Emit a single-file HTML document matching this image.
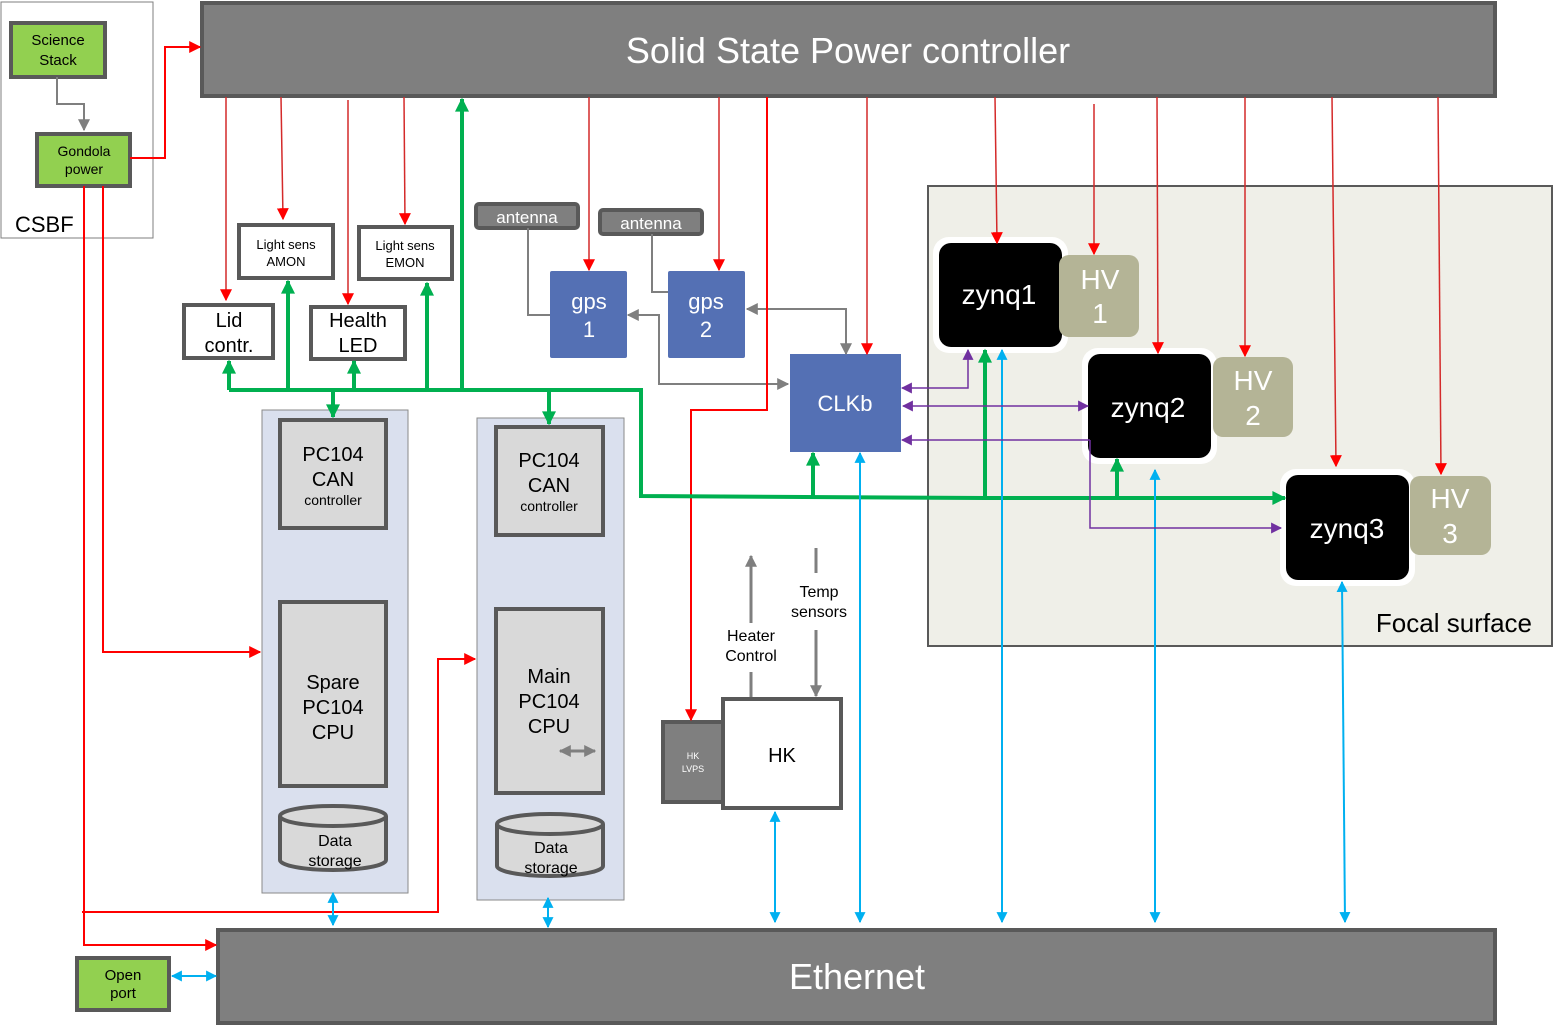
<!DOCTYPE html>
<html><head><meta charset="utf-8"><style>
html,body{margin:0;padding:0;background:#fff;}
svg{display:block;font-family:"Liberation Sans",Arial,sans-serif;}
</style></head><body>
<svg width="1554" height="1026" viewBox="0 0 1554 1026" xmlns="http://www.w3.org/2000/svg">
<defs>
<marker id="ar" viewBox="0 0 10 10" refX="9" refY="5" markerWidth="5" markerHeight="5" orient="auto-start-reverse" markerUnits="userSpaceOnUse"><path d="M0,0L10,5L0,10z" fill="#e02020"/></marker>
<marker id="arR" viewBox="0 0 10 10" refX="9" refY="5" markerWidth="12" markerHeight="12" orient="auto-start-reverse" markerUnits="userSpaceOnUse"><path d="M0,0L10,5L0,10z" fill="#ff0000"/></marker>
<marker id="ag" viewBox="0 0 10 10" refX="9" refY="5" markerWidth="16" markerHeight="14" orient="auto-start-reverse" markerUnits="userSpaceOnUse"><path d="M0,0L10,5L0,10z" fill="#00b050"/></marker>
<marker id="ab" viewBox="0 0 10 10" refX="9" refY="5" markerWidth="11" markerHeight="11" orient="auto-start-reverse" markerUnits="userSpaceOnUse"><path d="M0,0L10,5L0,10z" fill="#00b0f0"/></marker>
<marker id="ap" viewBox="0 0 10 10" refX="9" refY="5" markerWidth="11" markerHeight="11" orient="auto-start-reverse" markerUnits="userSpaceOnUse"><path d="M0,0L10,5L0,10z" fill="#7030a0"/></marker>
<marker id="ay" viewBox="0 0 10 10" refX="9" refY="5" markerWidth="12" markerHeight="12" orient="auto-start-reverse" markerUnits="userSpaceOnUse"><path d="M0,0L10,5L0,10z" fill="#7f7f7f"/></marker>
</defs>

<!-- CSBF -->
<rect x="1" y="2" width="152" height="236" fill="#fff" stroke="#7f7f7f" stroke-width="1"/>
<text x="15" y="232" font-size="22">CSBF</text>
<rect x="11" y="23" width="94" height="54" fill="#92d050" stroke="#595959" stroke-width="4"/>
<text x="58" y="45" font-size="15" text-anchor="middle">Science</text>
<text x="58" y="65" font-size="15" text-anchor="middle">Stack</text>
<rect x="37" y="134" width="93" height="52" fill="#92d050" stroke="#595959" stroke-width="4"/>
<text x="84" y="156" font-size="14" text-anchor="middle">Gondola</text>
<text x="84" y="174" font-size="14" text-anchor="middle">power</text>
<path d="M57,77V104H84V130" fill="none" stroke="#7f7f7f" stroke-width="2" marker-end="url(#ay)"/>

<!-- Focal surface -->
<rect x="928" y="186" width="624" height="460" fill="#efefe8" stroke="#595959" stroke-width="2"/>
<text x="1532" y="632" font-size="26" text-anchor="end">Focal surface</text>

<!-- PC104 columns -->
<rect x="262" y="410" width="146" height="483" fill="#dae0ee" stroke="#8a8a8a" stroke-width="1"/>
<rect x="477" y="418" width="147" height="482" fill="#dae0ee" stroke="#8a8a8a" stroke-width="1"/>
<rect x="280" y="420" width="106" height="108" fill="#d9d9d9" stroke="#595959" stroke-width="4"/>
<text x="333" y="461" font-size="20" text-anchor="middle">PC104</text>
<text x="333" y="486" font-size="20" text-anchor="middle">CAN</text>
<text x="333" y="505" font-size="14" text-anchor="middle">controller</text>
<rect x="280" y="602" width="106" height="184" fill="#d9d9d9" stroke="#595959" stroke-width="4"/>
<text x="333" y="689" font-size="20" text-anchor="middle">Spare</text>
<text x="333" y="714" font-size="20" text-anchor="middle">PC104</text>
<text x="333" y="739" font-size="20" text-anchor="middle">CPU</text>
<path d="M280,816V860A53,10 0 0 0 386,860V816" fill="#d9d9d9" stroke="#595959" stroke-width="4"/>
<ellipse cx="333" cy="816" rx="53" ry="10" fill="#d9d9d9" stroke="#595959" stroke-width="4"/>
<text x="335" y="846" font-size="16" text-anchor="middle">Data</text>
<text x="335" y="866" font-size="16" text-anchor="middle">storage</text>

<rect x="496" y="427" width="107" height="108" fill="#d9d9d9" stroke="#595959" stroke-width="4"/>
<text x="549" y="467" font-size="20" text-anchor="middle">PC104</text>
<text x="549" y="492" font-size="20" text-anchor="middle">CAN</text>
<text x="549" y="511" font-size="14" text-anchor="middle">controller</text>
<rect x="496" y="609" width="107" height="184" fill="#d9d9d9" stroke="#595959" stroke-width="4"/>
<text x="549" y="683" font-size="20" text-anchor="middle">Main</text>
<text x="549" y="708" font-size="20" text-anchor="middle">PC104</text>
<text x="549" y="733" font-size="20" text-anchor="middle">CPU</text>
<path d="M560,751H595" stroke="#7f7f7f" stroke-width="3" marker-start="url(#ay)" marker-end="url(#ay)"/>
<path d="M497,824V866A53,10 0 0 0 603,866V824" fill="#d9d9d9" stroke="#595959" stroke-width="4"/>
<ellipse cx="550" cy="824" rx="53" ry="10" fill="#d9d9d9" stroke="#595959" stroke-width="4"/>
<text x="551" y="853" font-size="16" text-anchor="middle">Data</text>
<text x="551" y="873" font-size="16" text-anchor="middle">storage</text>

<!-- small white boxes -->
<rect x="239" y="225" width="94" height="53" fill="#fff" stroke="#595959" stroke-width="4"/>
<text x="286" y="249" font-size="13" text-anchor="middle">Light sens</text>
<text x="286" y="266" font-size="13" text-anchor="middle">AMON</text>
<rect x="359" y="227" width="93" height="52" fill="#fff" stroke="#595959" stroke-width="4"/>
<text x="405" y="250" font-size="13" text-anchor="middle">Light sens</text>
<text x="405" y="267" font-size="13" text-anchor="middle">EMON</text>
<rect x="184" y="305" width="89" height="53" fill="#fff" stroke="#595959" stroke-width="4"/>
<text x="229" y="327" font-size="20" text-anchor="middle">Lid</text>
<text x="229" y="352" font-size="20" text-anchor="middle">contr.</text>
<rect x="311" y="307" width="94" height="52" fill="#fff" stroke="#595959" stroke-width="4"/>
<text x="358" y="327" font-size="20" text-anchor="middle">Health</text>
<text x="358" y="352" font-size="20" text-anchor="middle">LED</text>

<!-- antenna + gps -->
<rect x="476" y="204" width="102" height="24" rx="3" fill="#7f7f7f" stroke="#595959" stroke-width="4"/>
<text x="527" y="223" font-size="17" fill="#fff" text-anchor="middle">antenna</text>
<rect x="600" y="210" width="102" height="24" rx="3" fill="#7f7f7f" stroke="#595959" stroke-width="4"/>
<text x="651" y="229" font-size="17" fill="#fff" text-anchor="middle">antenna</text>
<path d="M528,228V315H550" fill="none" stroke="#7f7f7f" stroke-width="2"/>
<path d="M652,234V292H668" fill="none" stroke="#7f7f7f" stroke-width="2"/>
<rect x="550" y="271" width="77" height="87" rx="2" fill="#5470b4"/>
<text x="589" y="309" font-size="22" fill="#fff" text-anchor="middle">gps</text>
<text x="589" y="337" font-size="22" fill="#fff" text-anchor="middle">1</text>
<rect x="668" y="271" width="77" height="87" rx="2" fill="#5470b4"/>
<text x="706" y="309" font-size="22" fill="#fff" text-anchor="middle">gps</text>
<text x="706" y="337" font-size="22" fill="#fff" text-anchor="middle">2</text>

<rect x="790" y="354" width="111" height="98" fill="#5470b4"/>
<text x="845" y="411" font-size="22" fill="#fff" text-anchor="middle">CLKb</text>
<path d="M846,354V309H747" fill="none" stroke="#7f7f7f" stroke-width="2" marker-start="url(#ay)" marker-end="url(#ay)"/>
<path d="M628,315H659V384H788" fill="none" stroke="#7f7f7f" stroke-width="2" marker-start="url(#ay)" marker-end="url(#ay)"/>

<!-- zynq + HV -->
<rect x="933" y="237" width="135" height="116" rx="16" fill="#fff"/>
<rect x="939" y="243" width="123" height="104" rx="12" fill="#000"/>
<text x="999" y="304" font-size="28" fill="#fff" text-anchor="middle">zynq1</text>
<rect x="1059" y="255" width="80" height="82" rx="10" fill="#b4b496"/>
<text x="1100" y="289" font-size="28" fill="#fff" text-anchor="middle">HV</text>
<text x="1100" y="323" font-size="28" fill="#fff" text-anchor="middle">1</text>

<rect x="1082" y="348" width="135" height="116" rx="16" fill="#fff"/>
<rect x="1088" y="354" width="123" height="104" rx="12" fill="#000"/>
<text x="1148" y="417" font-size="28" fill="#fff" text-anchor="middle">zynq2</text>
<rect x="1213" y="357" width="80" height="80" rx="10" fill="#b4b496"/>
<text x="1253" y="390" font-size="28" fill="#fff" text-anchor="middle">HV</text>
<text x="1253" y="425" font-size="28" fill="#fff" text-anchor="middle">2</text>

<rect x="1280" y="469" width="135" height="117" rx="16" fill="#fff"/>
<rect x="1286" y="475" width="123" height="105" rx="12" fill="#000"/>
<text x="1347" y="538" font-size="28" fill="#fff" text-anchor="middle">zynq3</text>
<rect x="1410" y="476" width="81" height="79" rx="10" fill="#b4b496"/>
<text x="1450" y="508" font-size="28" fill="#fff" text-anchor="middle">HV</text>
<text x="1450" y="543" font-size="28" fill="#fff" text-anchor="middle">3</text>

<!-- HK -->
<rect x="663" y="722" width="60" height="80" fill="#7f7f7f" stroke="#595959" stroke-width="4"/>
<text x="693" y="759" font-size="9" fill="#fff" text-anchor="middle">HK</text>
<text x="693" y="772" font-size="9" fill="#fff" text-anchor="middle">LVPS</text>
<rect x="723" y="699" width="118" height="109" fill="#fff" stroke="#595959" stroke-width="4"/>
<text x="782" y="762" font-size="20" text-anchor="middle">HK</text>
<path d="M751,697V672M751,623V556" stroke="#7f7f7f" stroke-width="3" fill="none"/>
<path d="M751,600V556" stroke="#7f7f7f" stroke-width="3" marker-end="url(#ay)"/>
<text x="751" y="641" font-size="16" text-anchor="middle">Heater</text>
<text x="751" y="661" font-size="16" text-anchor="middle">Control</text>
<path d="M816,548V573" stroke="#7f7f7f" stroke-width="3"/>
<path d="M816,630V696" stroke="#7f7f7f" stroke-width="3" marker-end="url(#ay)"/>
<text x="819" y="597" font-size="16" text-anchor="middle">Temp</text>
<text x="819" y="617" font-size="16" text-anchor="middle">sensors</text>

<!-- SSPC & Ethernet -->
<rect x="202" y="3" width="1293" height="93" fill="#7f7f7f" stroke="#595959" stroke-width="4"/>
<text x="848" y="63" font-size="36" fill="#fff" text-anchor="middle">Solid State Power controller</text>
<rect x="218" y="930" width="1277" height="93" fill="#7f7f7f" stroke="#595959" stroke-width="4"/>
<text x="857" y="989" font-size="36" fill="#fff" text-anchor="middle">Ethernet</text>
<rect x="77" y="958" width="92" height="52" fill="#92d050" stroke="#595959" stroke-width="4"/>
<text x="123" y="980" font-size="15" text-anchor="middle">Open</text>
<text x="123" y="998" font-size="15" text-anchor="middle">port</text>

<!-- red lines -->
<g stroke="#d42a2a" stroke-width="1.5" fill="none" marker-end="url(#ar)">
<path d="M226,97V300" marker-end="url(#arR)"/>
<path d="M281,97L283,219" marker-end="url(#arR)"/>
<path d="M348,100V304" marker-end="url(#arR)"/>
<path d="M404,97L405,224" marker-end="url(#arR)"/>
<path d="M589,97V270" marker-end="url(#arR)"/>
<path d="M719,97V270" marker-end="url(#arR)"/>
<path d="M867,97V354" marker-end="url(#arR)"/>
<path d="M995,97L997,243" marker-end="url(#arR)"/>
<path d="M1094,104V254" marker-end="url(#arR)"/>
<path d="M1157,97L1158,353" marker-end="url(#arR)"/>
<path d="M1245,97V356" marker-end="url(#arR)"/>
<path d="M1332,97L1336,466" marker-end="url(#arR)"/>
<path d="M1438,97L1441,474" marker-end="url(#arR)"/>
</g>
<g stroke="#ff0000" stroke-width="2" fill="none">
<path d="M767,97V410H691V720" marker-end="url(#arR)"/>
<path d="M130,158H165V47H200" marker-end="url(#arR)"/>
<path d="M84,186V945H216" marker-end="url(#arR)"/>
<path d="M103,186V652H260" marker-end="url(#arR)"/>
<path d="M82,912H438V659H475" marker-end="url(#arR)"/>
</g>

<!-- green -->
<g stroke="#00b050" stroke-width="4" fill="none">
<path d="M229,390H641V496L985,498H1285" marker-end="url(#ag)"/>
<path d="M229,390V361" marker-end="url(#ag)"/>
<path d="M288,390V281" marker-end="url(#ag)"/>
<path d="M354,390V361" marker-end="url(#ag)"/>
<path d="M427,390V283" marker-end="url(#ag)"/>
<path d="M462,390V99" marker-end="url(#ag)"/>
<path d="M333,390V417" marker-end="url(#ag)"/>
<path d="M549,390V424" marker-end="url(#ag)"/>
<path d="M813,497V453" marker-end="url(#ag)"/>
<path d="M985,497V350" marker-end="url(#ag)"/>
<path d="M1117,497V459" marker-end="url(#ag)"/>
</g>

<!-- blue -->
<g stroke="#00b0f0" stroke-width="2" fill="none" marker-start="url(#ab)" marker-end="url(#ab)">
<path d="M333,893V925"/>
<path d="M548,898V927"/>
<path d="M775,812V922"/>
<path d="M860,453V922"/>
<path d="M1002,350V922"/>
<path d="M1155,470V922"/>
<path d="M1342,582L1345,922"/>
<path d="M172,976H216"/>
</g>

<!-- purple -->
<g stroke="#7030a0" stroke-width="1.5" fill="none">
<path d="M902,388H968V350" marker-start="url(#ap)" marker-end="url(#ap)"/>
<path d="M903,406H1088" marker-start="url(#ap)" marker-end="url(#ap)"/>
<path d="M1090,440H902" marker-end="url(#ap)"/>
<path d="M1090,440V528H1281" marker-end="url(#ap)"/>
</g>
</svg>
</body></html>
